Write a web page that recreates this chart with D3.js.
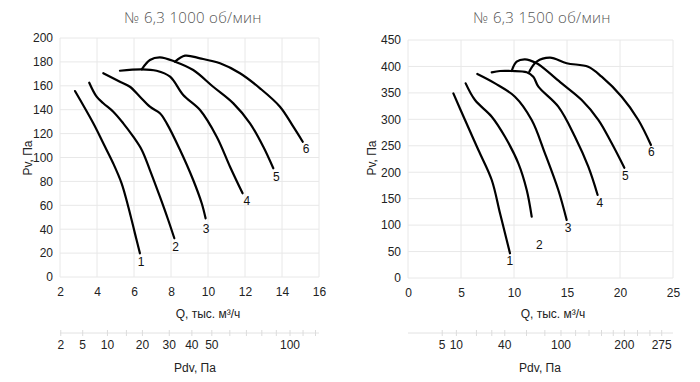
<!DOCTYPE html>
<html>
<head>
<meta charset="utf-8">
<script src="https://cdn.jsdelivr.net/npm/d3@7"></script>
<style>
  body { margin: 0; background: #fff; }
  svg { display: block; }
  .tick text { font-family: "Liberation Sans", Arial, sans-serif; font-size: 12px; fill: #222; }
  .grid line { stroke: #e8e8e8; stroke-width: 1; }
  .curve { fill: none; stroke: #000; stroke-width: 2.2; stroke-linecap: round; }
</style>
</head>
<body>
<div id="chart"></div>
<script>
// Pdv = K * Q^2 (dynamic pressure vs airflow)
const K = 0.48;

// 1000 rpm curves, points are [Q, Pv]
const curves1000 = [
  [[2.81,155.6],[3.8,128.6],[4.34,111.9],[4.88,95],[5.33,78.4],[5.69,58.8],[6.05,36.5],[6.32,19.8]],
  [[3.58,162.6],[3.98,150.9],[4.34,145.4],[4.88,138.3],[5.42,128.6],[5.96,117.4],[6.42,106.3],[6.86,89.5],[7.4,67.2],[7.85,47.7],[8.18,32.4]],
  [[4.34,170.5],[5.24,163.4],[5.78,159.2],[6.32,150.9],[6.86,142.5],[7.4,137],[7.77,128.6],[8.49,106.3],[9.2,81.2],[9.66,61.7],[9.87,49.1]],
  [[5.24,172.6],[6.42,173.8],[7.22,172.6],[7.95,167.6],[8.66,152.3],[9.57,139.7],[10.47,117.4],[11.19,92.3],[11.87,70]],
  [[6.42,173.8],[6.86,181.6],[7.4,183.8],[8.22,180.2],[9.2,173.2],[10.28,159.2],[11.37,145.3],[12.27,128.6],[12.99,109],[13.53,91]],
  [[8.22,180.2],[8.76,185.2],[9.57,183],[10.65,178.8],[11.73,170.5],[12.81,157.9],[13.89,142.5],[14.61,125.8],[15.12,113.2]]
];
const labels1000 = [[6.38,13],[8.25,25.5],[9.9,40],[12.1,63.5],[13.7,84],[15.3,107.5]];

// 1500 rpm curves
const curves1500 = [
  [[4.28,349],[5.38,298.7],[6.64,242],[7.9,185.3],[8.68,122.3],[9.31,71.8],[9.62,46.7]],
  [[5.44,368],[6.32,336.5],[7.9,305],[9.15,267],[10.41,216.8],[11.2,166.4],[11.67,115.9]],
  [[6.54,385.7],[8.21,368],[10.09,342.8],[11.67,298.7],[12.92,235.8],[14.18,166.4],[14.97,109.7]],
  [[7.9,388.9],[8.68,391.4],[9.78,391.4],[11.2,389],[11.82,380.6],[12.3,361.7],[14.18,323.9],[15.75,267.2],[17.01,210.4],[17.89,157]],
  [[9.78,391.4],[10.25,409],[11.04,413.5],[12.14,406],[12.61,399.5],[14.5,368],[16.39,336.5],[17.97,298.7],[19.22,254.7],[20.41,208.5]],
  [[11.44,390],[12.14,409],[13.4,416.5],[14.97,406],[17.0,399.5],[18.27,380.6],[20.16,342.8],[21.73,298.7],[22.92,251.5]]
];
const labels1500 = [[9.6,33],[12.4,62],[15.1,94],[18.1,142],[20.5,193],[22.95,238]];

const xTicks1000 = [2,4,6,8,10,12,14,16];
const yTicks1000 = [0,20,40,60,80,100,120,140,160,180,200];
const xTicks1500 = [0,5,10,15,20,25];
const yTicks1500 = [0,50,100,150,200,250,300,350,400,450];

const pdvTicks1000 = [2,5,10,15,20,30,40,50,60,70,80,90,100,110,120];
const pdvLabels1000 = [2,5,10,20,30,40,50,100];
const pdvTicks1500 = [5,10,20,30,40,60,80,100,120,140,160,180,200,225,250,275];
const pdvLabels1500 = [5,10,40,100,200,275];

const titles = ["№ 6,3  1000 об/мин", "№ 6,3  1500 об/мин"];

const svg = d3.select("#chart").append("svg")
  .attr("width", 700).attr("height", 382);

const font = '"Liberation Sans", Arial, sans-serif';

function drawPanel(o) {
  const g = svg.append("g");
  const x = d3.scaleLinear().domain(o.xDomain).range(o.xRange);
  const y = d3.scaleLinear().domain(o.yDomain).range(o.yRange);

  // grid
  g.append("g").attr("class", "grid").selectAll("line")
    .data(o.xTicks).join("line")
    .attr("x1", d => x(d)).attr("x2", d => x(d))
    .attr("y1", o.yRange[0]).attr("y2", o.yRange[1]);
  g.append("g").attr("class", "grid").selectAll("line")
    .data(o.yTicks).join("line")
    .attr("x1", o.xRange[0]).attr("x2", o.xRange[1])
    .attr("y1", d => y(d)).attr("y2", d => y(d));

  // axes (no lines, labels only)
  const xa = g.append("g").attr("transform", `translate(0,${o.yRange[0]})`)
    .call(d3.axisBottom(x).tickValues(o.xTicks).tickSize(0).tickPadding(10).tickFormat(d3.format("d")));
  xa.select(".domain").remove();
  const ya = g.append("g").attr("transform", `translate(${o.xRange[0]},0)`)
    .call(d3.axisLeft(y).tickValues(o.yTicks).tickSize(0).tickPadding(7).tickFormat(d3.format("d")));
  ya.select(".domain").remove();

  // Pdv axis
  const p = d3.scaleSqrt().domain([K * o.xDomain[0] ** 2, K * o.xDomain[1] ** 2]).range(o.xRange);
  const pa = g.append("g").attr("transform", `translate(0,${o.pdvY})`);
  pa.append("line").attr("x1", o.xRange[0]).attr("x2", o.xRange[1])
    .attr("y1", 0).attr("y2", 0).attr("stroke", "#e2e2e2");
  pa.selectAll(".pt").data(o.pdvTicks).join("line").attr("class", "pt")
    .attr("x1", d => p(d)).attr("x2", d => p(d))
    .attr("y1", -3).attr("y2", 3).attr("stroke", "#dcdcdc");
  pa.selectAll("text").data(o.pdvLabels).join("text")
    .attr("x", d => p(d)).attr("y", 16)
    .attr("text-anchor", "middle")
    .style("font-family", font).style("font-size", "12px").style("fill", "#222")
    .text(d => d);

  // curves
  const line = d3.line().x(d => x(d[0])).y(d => y(d[1])).curve(d3.curveCatmullRom.alpha(0.5));
  g.selectAll(".curve").data(o.curves).join("path")
    .attr("class", "curve").attr("d", line);

  g.selectAll(".lbl").data(o.labels).join("text").attr("class", "lbl")
    .attr("x", d => x(d[0])).attr("y", d => y(d[1]))
    .attr("text-anchor", "middle").attr("dy", "0.35em")
    .style("font-family", font).style("font-size", "12px").style("fill", "#111")
    .text((d, i) => i + 1);

  // titles
  g.append("text").attr("x", o.titleX).attr("y", 23).attr("text-anchor", "middle")
    .style("font-family", '"Open Sans", sans-serif').style("font-weight", 300)
    .style("font-size", "15px").style("fill", "#555").style("letter-spacing", "0.3px")
    .text(o.title);
  g.append("text").attr("transform", `translate(${o.pvX},158) rotate(-90)`)
    .attr("text-anchor", "middle").attr("dy", "0.35em")
    .style("font-family", font).style("font-size", "12px").style("fill", "#222")
    .text("Pv, Па");
  g.append("text").attr("x", o.qX).attr("y", 318).attr("text-anchor", "middle")
    .style("font-family", font).style("font-size", "12px").style("fill", "#222")
    .text("Q, тыс. м³/ч");
  g.append("text").attr("x", o.qX - 13).attr("y", 372).attr("text-anchor", "middle")
    .style("font-family", font).style("font-size", "12px").style("fill", "#222")
    .text("Pdv, Па");
}

drawPanel({
  xDomain: [2, 16], xRange: [60, 319], yDomain: [0, 200], yRange: [277, 38],
  xTicks: xTicks1000, yTicks: yTicks1000, curves: curves1000, labels: labels1000,
  pdvTicks: pdvTicks1000, pdvLabels: pdvLabels1000, pdvY: 333,
  title: titles[0], titleX: 193, pvX: 28, qX: 208
});
drawPanel({
  xDomain: [0, 25], xRange: [408, 673], yDomain: [0, 450], yRange: [278, 40],
  xTicks: xTicks1500, yTicks: yTicks1500, curves: curves1500, labels: labels1500,
  pdvTicks: pdvTicks1500, pdvLabels: pdvLabels1500, pdvY: 333,
  title: titles[1], titleX: 542, pvX: 372, qX: 553
});
</script>
</body>
</html>
